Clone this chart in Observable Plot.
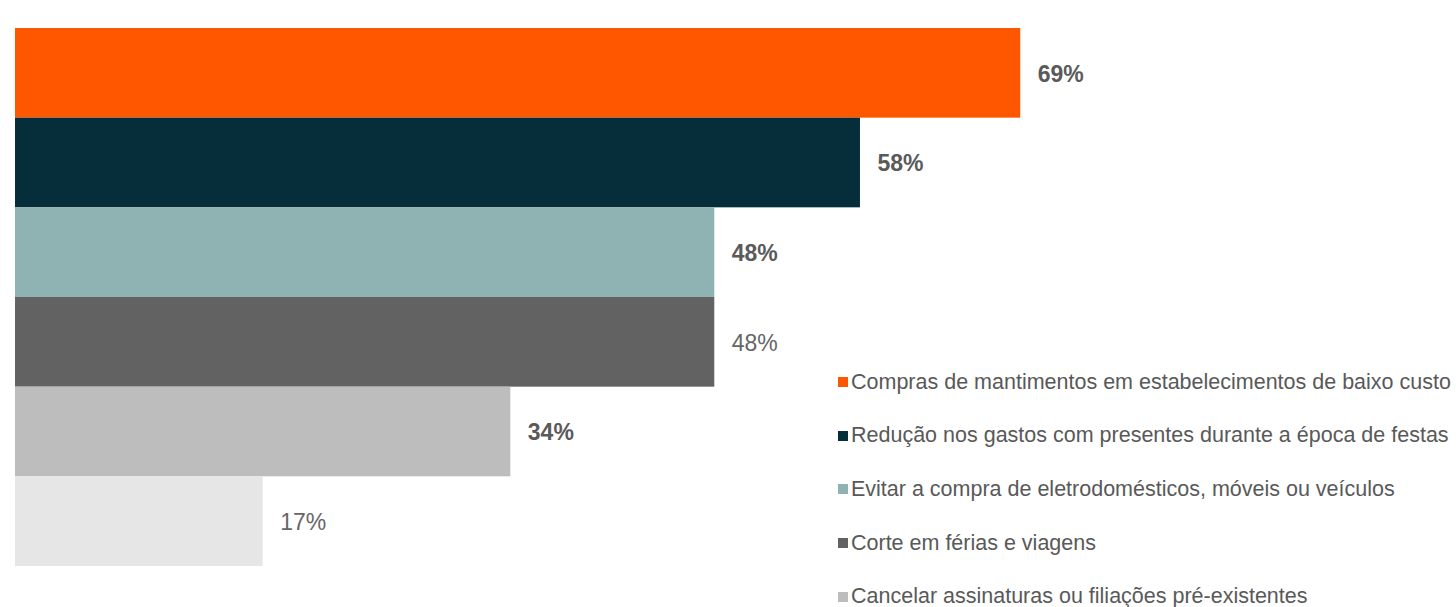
<!DOCTYPE html>
<html>
<head>
<meta charset="utf-8">
<script src="https://cdn.jsdelivr.net/npm/d3@7"></script>
<script src="https://cdn.jsdelivr.net/npm/@observablehq/plot@0.6"></script>
<style>
  html, body { margin: 0; padding: 0; background: #fff; }
  #wrap { position: relative; width: 1456px; height: 607px; overflow: hidden; font-family: "Liberation Sans", Arial, sans-serif; }
  #legend { position: absolute; left: 838px; top: 369px; }
  .item { display: flex; align-items: center; height: 26px; margin-bottom: 27.7px; font-size: 21.5px; color: #595959; white-space: nowrap; }
  .sw { width: 10px; height: 10px; margin-right: 3px; flex: none; }
</style>
</head>
<body>
<div id="wrap"></div>
<script>
const categories = [
  "Compras de mantimentos em estabelecimentos de baixo custo",
  "Redução nos gastos com presentes durante a época de festas",
  "Evitar a compra de eletrodomésticos, móveis ou veículos",
  "Corte em férias e viagens",
  "Cancelar assinaturas ou filiações pré-existentes",
  "(6)"
];
const values = [69, 58, 48, 48, 34, 17];
const colors = ["#ff5700", "#052d3a", "#8fb2b2", "#636262", "#bdbdbd", "#e6e6e6"];
const legendCategories = categories.slice(0, 5);

const data = categories.map((c, i) => ({category: c, value: values[i], idx: i}));
const boldIdx = new Set([0, 1, 2, 4]);

const chart = Plot.plot({
  width: 1456,
  height: 607,
  marginLeft: 15,
  marginRight: 57,
  marginTop: 28,
  marginBottom: 41,
  x: {domain: [0, 95], axis: null},
  y: {domain: categories, axis: null, padding: 0, round: false},
  color: {domain: categories, range: colors},
  style: {fontFamily: "'Liberation Sans', Arial, sans-serif", background: "transparent"},
  marks: [
    Plot.barX(data, {x: "value", y: "category", fill: "category"}),
    Plot.text(data.filter(d => boldIdx.has(d.idx)), {
      x: "value", y: "category", text: d => d.value + "%",
      textAnchor: "start", dx: 17, dy: 1, fontSize: 23, fontWeight: "bold", fill: "#5a5a5a"
    }),
    Plot.text(data.filter(d => !boldIdx.has(d.idx)), {
      x: "value", y: "category", text: d => d.value + "%",
      textAnchor: "start", dx: 17, dy: 1, fontSize: 23, fill: "#666"
    })
  ]
});

const wrap = document.getElementById("wrap");
wrap.appendChild(chart);

const color = chart.scale("color");
const legend = document.createElement("div");
legend.id = "legend";
legendCategories.forEach(c => {
  const item = document.createElement("div");
  item.className = "item";
  const sw = document.createElement("span");
  sw.className = "sw";
  sw.style.background = color.apply(c);
  const label = document.createElement("span");
  label.textContent = c;
  item.appendChild(sw);
  item.appendChild(label);
  legend.appendChild(item);
});
wrap.appendChild(legend);
</script>
</body>
</html>
